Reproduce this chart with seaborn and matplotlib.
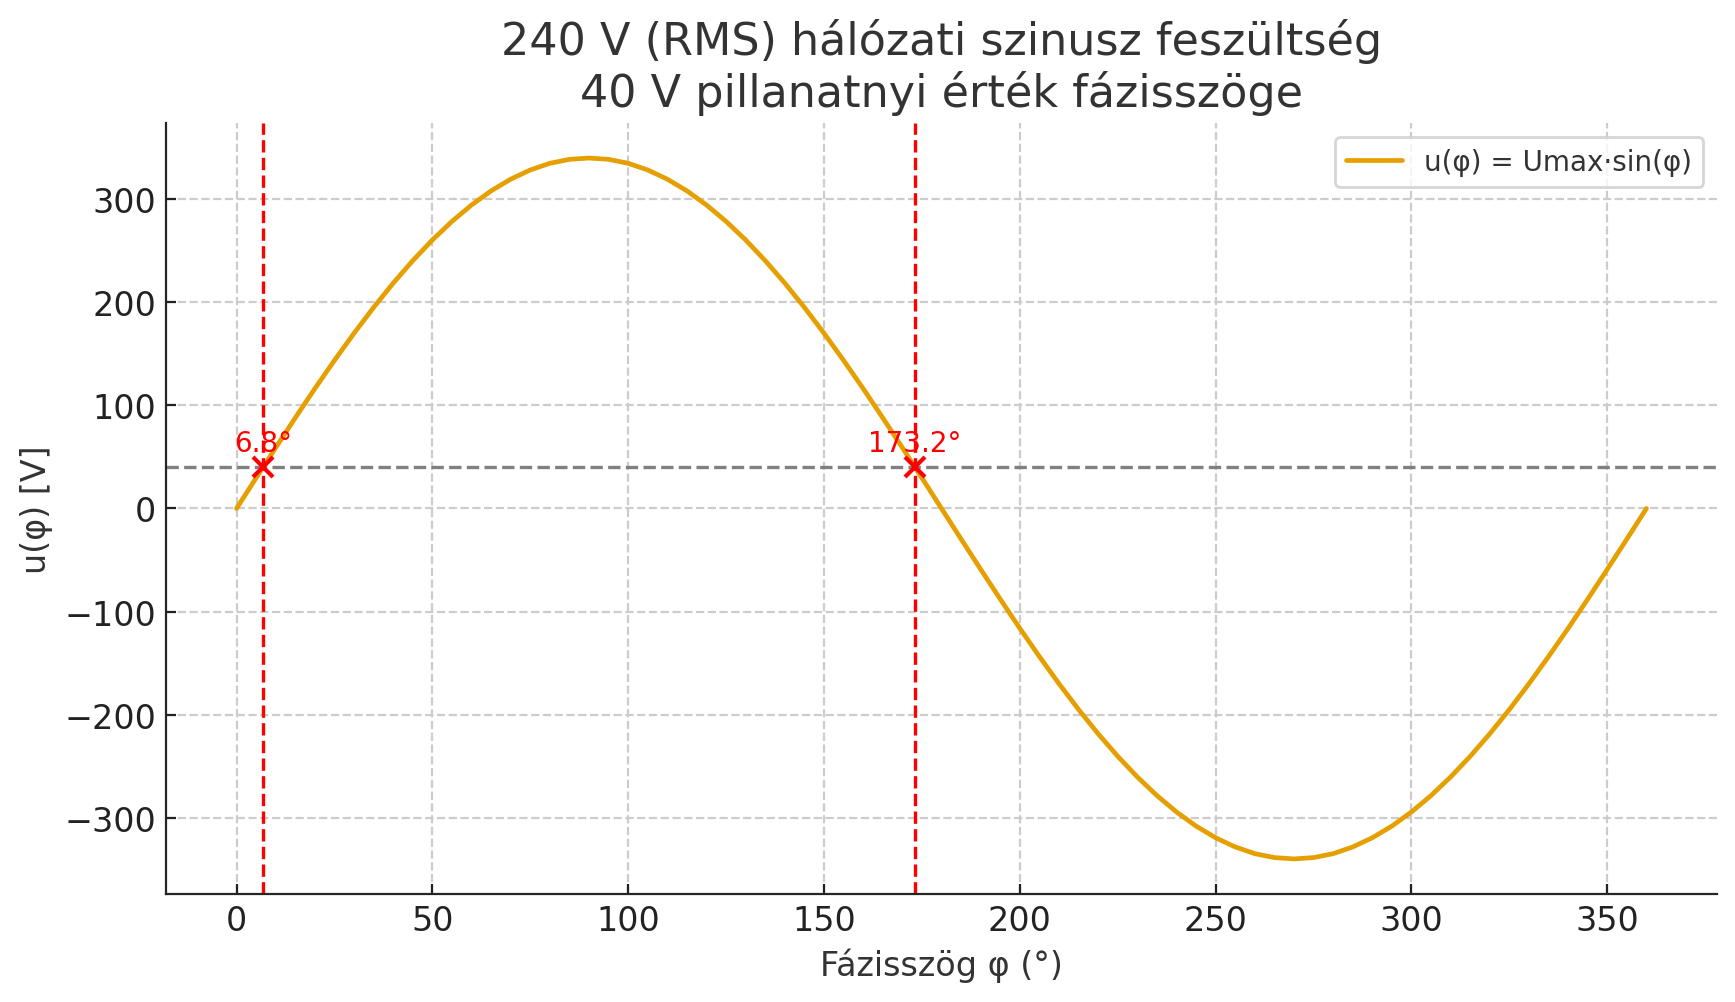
import numpy as np
import pandas as pd
import matplotlib
matplotlib.use("Agg")
import matplotlib.pyplot as plt
import seaborn as sns

# Phase angles (degrees) and voltage values
phase_deg = list(range(0, 361, 5))
half_wave = [0.0, 29.6, 58.9, 87.8, 116.1, 143.4, 169.7, 194.7, 218.2, 240.0,
             260.0, 278.0, 293.9, 307.6, 318.9, 327.8, 334.3, 338.1, 339.4,
             338.1, 334.3, 327.8, 318.9, 307.6, 293.9, 278.0, 260.0, 240.0,
             218.2, 194.7, 169.7, 143.4, 116.1, 87.8, 58.9, 29.6]
neg_wave = [0.0, -29.6, -58.9, -87.8, -116.1, -143.4, -169.7, -194.7, -218.2, -240.0,
            -260.0, -278.0, -293.9, -307.6, -318.9, -327.8, -334.3, -338.1, -339.4,
            -338.1, -334.3, -327.8, -318.9, -307.6, -293.9, -278.0, -260.0, -240.0,
            -218.2, -194.7, -169.7, -143.4, -116.1, -87.8, -58.9, -29.6, 0.0]
voltage = half_wave + neg_wave

u_inst = 40.0
cross_angles = [6.8, 173.2]
cross_labels = ["6.8°", "173.2°"]
x_ticks = [0, 50, 100, 150, 200, 250, 300, 350]
y_ticks = [-300, -200, -100, 0, 100, 200, 300]

sns.set_style("ticks")
plt.rcParams["font.family"] = ["DejaVu Sans"]
plt.rcParams["text.color"] = "#333333"
plt.rcParams["axes.labelcolor"] = "#333333"
plt.rcParams["xtick.color"] = "#222222"
plt.rcParams["ytick.color"] = "#222222"
plt.rcParams["xtick.labelcolor"] = "#222222"
plt.rcParams["ytick.labelcolor"] = "#222222"

df = pd.DataFrame({"phi": phase_deg, "u": voltage})

fig, ax = plt.subplots(figsize=(8.675, 5.015), dpi=200)
fig.subplots_adjust(left=0.0957, right=0.9896, top=0.8764, bottom=0.1077)
sns.lineplot(data=df, x="phi", y="u", ax=ax, color="#E69F00", linewidth=1.7,
             label="u(φ) = Umax·sin(φ)")
ax.axhline(u_inst, color="gray", linestyle="--", linewidth=1.2)
for a, lab in zip(cross_angles, cross_labels):
    ax.axvline(a, color="red", linestyle="--", linewidth=1.2)
    ax.plot([a], [u_inst], marker="x", color="red", markersize=7, markeredgewidth=1.5)
    ax.annotate(lab, (a, u_inst), xytext=(0, 3.5), textcoords="offset points",
                ha="center", va="bottom", color="red", fontsize=10)

ax.set_xticks(x_ticks)
ax.set_yticks(y_ticks)
ax.tick_params(labelsize=12, direction="in", length=3.5)
ax.grid(True, linestyle="--", color="#cccccc", linewidth=0.8)
ax.set_xlabel("Fázisszög φ (°)", fontsize=12)
ax.set_ylabel("u(φ) [V]", fontsize=12)
ax.set_title("240 V (RMS) hálózati szinusz feszültség\n40 V pillanatnyi érték fázisszöge",
             fontsize=16)
sns.despine(ax=ax)
ax.legend(loc="upper right", fontsize=10)
fig.savefig("out.png", dpi=200)
